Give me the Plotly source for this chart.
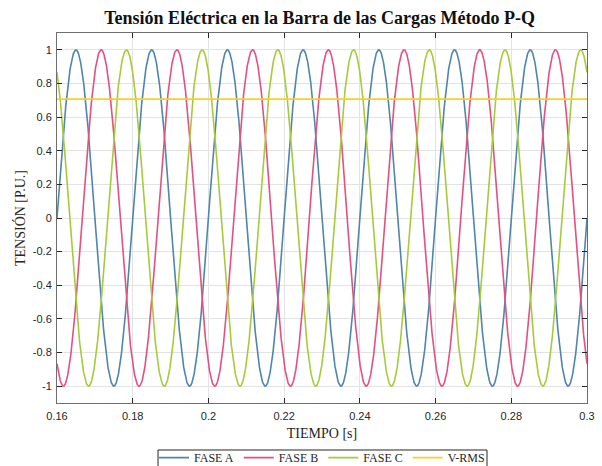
import numpy as np
import plotly.graph_objects as go

# Three-phase load-bus voltage (per unit) and its RMS level
series_names = ["FASE A", "FASE B", "FASE C", "V-RMS"]
series_colors = ["#4f86aa", "#e4507f", "#a6cb3a", "#f7d31e"]
phase_angles_deg = [0.0, -120.0, 120.0]
amplitude_pu = 1.0
frequency_hz = 50.0
vrms_pu = 0.7071

t_start, t_end = 0.16, 0.30
x_tick_vals = [0.16, 0.18, 0.20, 0.22, 0.24, 0.26, 0.28, 0.30]
x_tick_text = ["0.16", "0.18", "0.2", "0.22", "0.24", "0.26", "0.28", "0.3"]
y_tick_vals = [1, 0.8, 0.6, 0.4, 0.2, 0, -0.2, -0.4, -0.6, -0.8, -1]
y_tick_text = ["1", "0.8", "0.6", "0.4", "0.2", "0", "-0.2", "-0.4", "-0.6", "-0.8", "-1"]

t = np.linspace(t_start, t_end, 2801)

fig = go.Figure()
for name, color, ang in zip(series_names[:3], series_colors[:3], phase_angles_deg):
    v = amplitude_pu * np.sin(2 * np.pi * frequency_hz * t + np.deg2rad(ang))
    fig.add_trace(go.Scatter(x=t, y=v, mode="lines", name=name,
                             line=dict(color=color, width=1.6)))
fig.add_trace(go.Scatter(x=[t_start, t_end], y=[vrms_pu, vrms_pu], mode="lines",
                         name=series_names[3],
                         line=dict(color=series_colors[3], width=1.8)))

serif = "Liberation Serif, Times New Roman, serif"
sans = "Liberation Sans, Arial, sans-serif"

axis_common = dict(
    showgrid=True, gridcolor="#e3e3e3", gridwidth=1,
    showline=True, linecolor="#6e6e6e", linewidth=1,
    mirror="ticks", ticks="inside", ticklen=5, tickcolor="#262626",
    zeroline=False, automargin=False,
    tickfont=dict(family=sans, size=11, color="#262626"),
)

# frame around the legend row, running off the bottom edge of the page
legend_frame = dict(type="rect", xref="paper", yref="paper",
                    x0=0.1906, x1=0.8113, y0=-0.25, y1=-0.127,
                    line=dict(color="#262626", width=1), fillcolor="rgba(0,0,0,0)",
                    layer="above")

fig.update_layout(
    width=602, height=466,
    margin=dict(l=57, r=15, t=33, b=63, autoexpand=False),
    paper_bgcolor="white", plot_bgcolor="white",
    title=dict(text="<b>Tensión Eléctrica en la Barra de las Cargas Método P-Q</b>",
               x=0.531, xanchor="center", y=0.962, yanchor="middle",
               font=dict(family=serif, size=18, color="#111111")),
    xaxis=dict(range=[t_start, t_end], tickvals=x_tick_vals, ticktext=x_tick_text,
               ticklabelstandoff=3,
               title=dict(text="TIEMPO [s]", font=dict(family=serif, size=14, color="#262626"),
                          standoff=6),
               **axis_common),
    yaxis=dict(range=[-1.1, 1.1], tickvals=y_tick_vals, ticktext=y_tick_text,
               ticklabelstandoff=2,
               title=dict(text="TENSIÓN [P.U.]", font=dict(family=serif, size=14, color="#262626"),
                          standoff=3),
               **axis_common),
    legend=dict(orientation="h", x=0.5, xanchor="center",
                yref="container", y=0.049, yanchor="top",
                font=dict(family=serif, size=12, color="#262626"),
                borderwidth=0, bgcolor="rgba(0,0,0,0)",
                itemwidth=30, tracegroupgap=0),
    shapes=[legend_frame],
    showlegend=True,
)

fig.write_html("out.html")
